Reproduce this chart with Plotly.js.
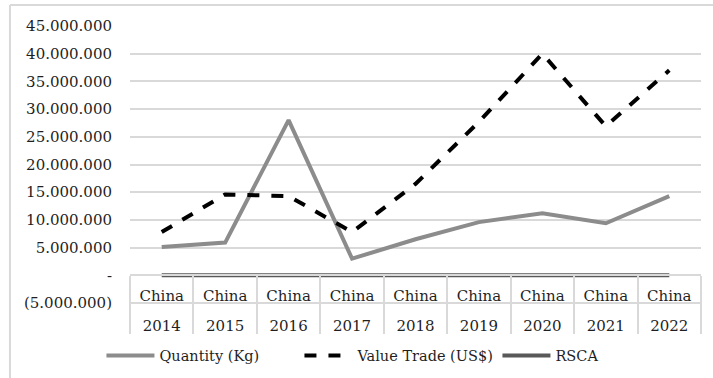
<!DOCTYPE html>
<html>
<head>
<meta charset="utf-8">
<script src="https://cdn.plot.ly/plotly-3.0.1.min.js"></script>
<style>
html,body{margin:0;padding:0;background:#fff;}
#chart{width:713px;height:378px;}
</style>
</head>
<body>
<div id="chart"></div>
<script>
const years = ["2014","2015","2016","2017","2018","2019","2020","2021","2022"];
const countries = ["China","China","China","China","China","China","China","China","China"];
const quantityKg = [5100000, 5900000, 28000000, 3000000, 6500000, 9600000, 11200000, 9400000, 14300000];
const valueTradeUSD = [7800000, 14600000, 14300000, 7800000, 16500000, 27700000, 40000000, 26900000, 37000000];
const rsca = [0, 0, 0, 0, 0, 0, 0, 0, 0];
const yTickVals = [-5000000, 0, 5000000, 10000000, 15000000, 20000000, 25000000, 30000000, 35000000, 40000000, 45000000];
const yTickText = ["(5.000.000)", "-", "5.000.000", "10.000.000", "15.000.000", "20.000.000", "25.000.000", "30.000.000", "35.000.000", "40.000.000", "45.000.000"];

const FONT = "DejaVu Serif";
const GRID = "#d9d9d9";
const TXT = "#1f1f1f";
const FS = 15;
const xRange = [-0.5, years.length - 0.5];

const traces = [
  {x: years, y: quantityKg, name: "Quantity (Kg)", type: "scatter", mode: "lines",
   line: {color: "#8c8c8c", width: 4}},
  {x: years, y: valueTradeUSD, name: "Value Trade (US$)", type: "scatter", mode: "lines",
   line: {color: "#000000", width: 4, dash: "dash"}},
  {x: years, y: rsca, name: "RSCA", type: "scatter", mode: "lines", xaxis: "x2",
   line: {color: "#595959", width: 4}}
];

const layout = {
  width: 713, height: 378,
  margin: {l: 130, r: 12, t: 26, b: 75, autoexpand: false},
  paper_bgcolor: "#ffffff", plot_bgcolor: "#ffffff",
  font: {family: FONT, size: FS, color: TXT},
  showlegend: true,
  legend: {orientation: "h", x: -0.05, xanchor: "left", y: -0.19, yanchor: "middle",
           entrywidth: 135, itemwidth: 48,
           font: {family: FONT, size: 14.5, color: TXT}},
  xaxis: {type: "category", categoryarray: years, range: xRange,
          anchor: "free", position: 0.1,
          showline: true, linecolor: GRID, linewidth: 2,
          showgrid: false, zeroline: false,
          ticks: "outside", tickson: "boundaries", ticklen: 58, tickwidth: 2, tickcolor: GRID,
          tickmode: "array", tickvals: years, ticktext: countries,
          ticklabelstandoff: 7,
          tickfont: {family: FONT, size: FS, color: TXT}},
  xaxis2: {type: "category", categoryarray: years, range: xRange, overlaying: "x",
           anchor: "free", position: 0.1,
           ticks: "", showline: false, showgrid: false, zeroline: false,
           ticklabelstandoff: 40,
           tickfont: {family: FONT, size: FS, color: TXT}},
  yaxis: {range: [-5000000, 45000000], tickvals: yTickVals, ticktext: yTickText,
          showgrid: true, gridcolor: GRID, gridwidth: 2,
          zeroline: true, zerolinecolor: GRID, zerolinewidth: 2,
          showline: false, ticks: "", ticklabelstandoff: 17,
          tickfont: {family: FONT, size: FS, color: TXT}},
  shapes: [
    {type: "line", xref: "paper", yref: "paper", x0: 0, x1: 1, y0: 0, y1: 0,
     line: {color: GRID, width: 2}, layer: "above"},
    {type: "line", xref: "paper", yref: "paper", x0: -0.2102, x1: -0.2102, y0: -0.3, y1: 1.0758,
     line: {color: GRID, width: 2}},
    {type: "line", xref: "paper", yref: "paper", x0: -0.2102, x1: 1.1, y0: 1.0758, y1: 1.0758,
     line: {color: GRID, width: 2}}
  ]
};

Plotly.newPlot("chart", traces, layout, {displayModeBar: false, staticPlot: true});
</script>
</body>
</html>
